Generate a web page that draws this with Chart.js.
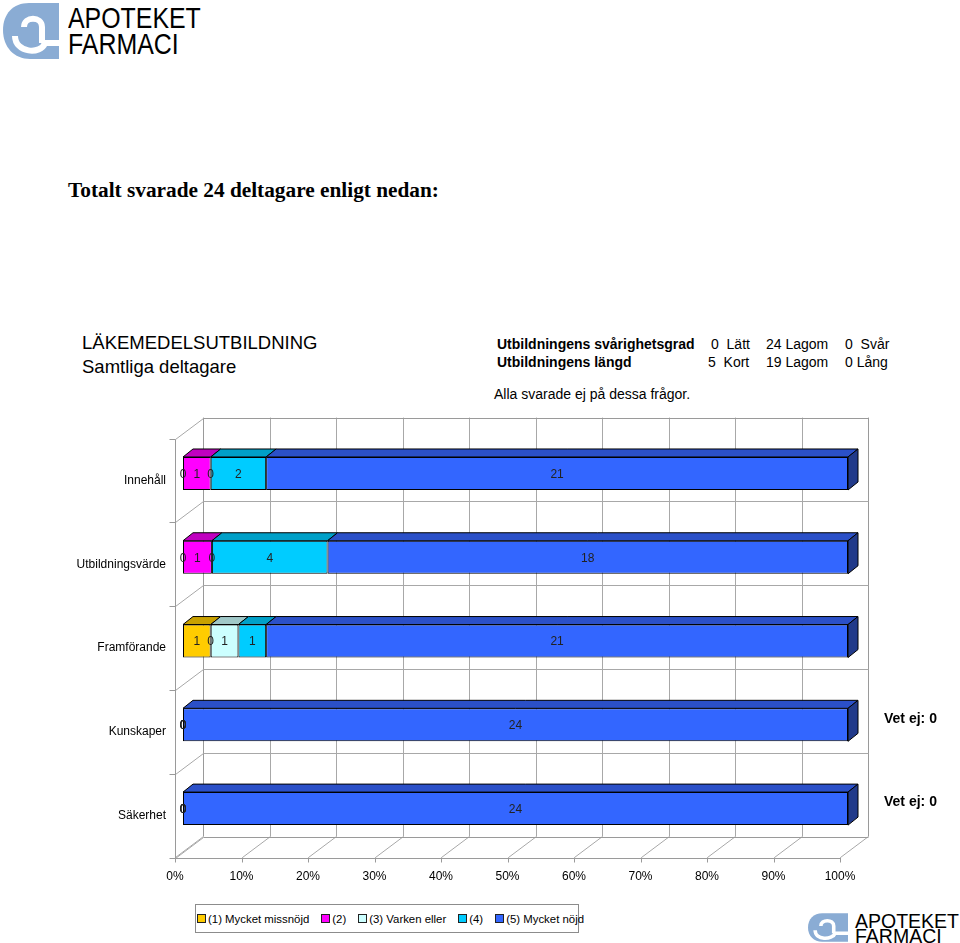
<!DOCTYPE html>
<html>
<head>
<meta charset="utf-8">
<script src="https://cdn.jsdelivr.net/npm/chart.js@4.4.1/dist/chart.umd.min.js"></script>
<style>
  html, body { margin:0; padding:0; background:#fff; }
  body { width:960px; height:943px; position:relative; overflow:hidden; font-family:"Liberation Sans", Arial, sans-serif; color:#000; }
  .abs { position:absolute; white-space:nowrap; line-height:1; }
  #chartWrap { position:absolute; left:0; top:400px; width:960px; height:500px; }
  #legend { position:absolute; left:195px; top:904px; width:384px; height:29px; border:1px solid #8c8c8c; box-sizing:border-box;
            display:flex; align-items:center; padding-left:1px; font-size:11.4px; white-space:nowrap; }
  #legend .item { display:flex; align-items:center; margin-right:12px; white-space:nowrap; flex:none; }
  #legend .sw { width:7px; height:7px; border:1px solid #222; margin-right:2px; flex:none; }
  .logoTxt { font-family:"Liberation Sans", Arial, sans-serif; transform-origin:0 0; letter-spacing:0px; }
</style>
</head>
<body>
<!-- top-left logo -->
<svg class="abs" style="left:3px;top:3px" width="56" height="56" viewBox="0 0 56 56">
  <path d="M56 0 L26 0 C10 0 0 11 0 27 C0 44 11 56 27 56 L56 56 Z" fill="#8aacd4"/>
  <path d="M21 24 C21 13 39 13 39 24 L39 40" stroke="#fff" stroke-width="6" fill="none"/>
  <path d="M12 33 C12 50 38 52 42 40 L56 40" stroke="#fff" stroke-width="6" fill="none"/>
</svg>
<div class="abs logoTxt" style="left:68px;top:3px;font-size:30px;transform:scaleX(0.83)">APOTEKET</div>
<div class="abs logoTxt" style="left:68px;top:29px;font-size:30px;transform:scaleX(0.83)">FARMACI</div>

<div class="abs" style="left:68px;top:180px;font-family:'Liberation Serif','Times New Roman',serif;font-weight:bold;font-size:21.3px;">Totalt svarade 24 deltagare enligt nedan:</div>

<div class="abs" style="left:82px;top:334px;font-size:18.5px;">LÄKEMEDELSUTBILDNING</div>
<div class="abs" style="left:82px;top:358px;font-size:18.5px;">Samtliga deltagare</div>

<div class="abs" style="left:497px;top:337px;font-size:14px;font-weight:bold;">Utbildningens svårighetsgrad</div>
<div class="abs" style="left:497px;top:355px;font-size:14px;font-weight:bold;">Utbildningens längd</div>
<div class="abs" style="left:711px;top:337px;font-size:14px;">0&nbsp; Lätt</div>
<div class="abs" style="left:766px;top:337px;font-size:14px;">24 Lagom</div>
<div class="abs" style="left:845px;top:337px;font-size:14px;">0&nbsp; Svår</div>
<div class="abs" style="left:708px;top:355px;font-size:14px;">5&nbsp; Kort</div>
<div class="abs" style="left:766px;top:355px;font-size:14px;">19 Lagom</div>
<div class="abs" style="left:845px;top:355px;font-size:14px;">0 Lång</div>
<div class="abs" style="left:494px;top:387px;font-size:14px;">Alla svarade ej på dessa frågor.</div>

<div id="chartWrap"><canvas id="c" width="960" height="500"></canvas></div>

<div id="legend"></div>

<!-- bottom-right logo -->
<svg class="abs" style="left:808px;top:913px" width="40" height="29" viewBox="0 0 56 40">
  <path d="M56 0 L20 0 C8 0 0 8 0 20 C0 32 8 40 20 40 L56 40 Z" fill="#8aacd4"/>
  <path d="M18 18 C18 8 36 8 36 18 L36 28" stroke="#fff" stroke-width="5" fill="none"/>
  <path d="M10 24 C10 38 34 38 38 28 L56 28" stroke="#fff" stroke-width="5" fill="none"/>
</svg>
<div class="abs logoTxt" style="left:855px;top:912px;font-size:19.5px;">APOTEKET</div>
<div class="abs logoTxt" style="left:855px;top:927px;font-size:19.5px;">FARMACI</div>

<script>
// ---- data ----
const categories = ['Innehåll', 'Utbildningsvärde', 'Framförande', 'Kunskaper', 'Säkerhet'];
const seriesNames = ['(1) Mycket missnöjd', '(2)', '(3) Varken eller', '(4)', '(5) Mycket nöjd'];
const s1 = [0, 0, 1, 0, 0];
const s2 = [1, 1, 0, 0, 0];
const s3 = [0, 0, 1, 0, 0];
const s4 = [2, 4, 1, 0, 0];
const s5 = [21, 18, 21, 24, 24];
const vetEj = [null, null, null, 0, 0];
const xTickLabels = ['0%', '10%', '20%', '30%', '40%', '50%', '60%', '70%', '80%', '90%', '100%'];

// ---- styles ----
const frontColors = ['#FFCC00', '#FF00FF', '#CCFFFF', '#00CCFF', '#3366FF'];
const topColors   = ['#C8A000', '#C000C0', '#A0C8C8', '#00A0C8', '#2B50C8'];
const sideColors  = ['#8F7400', '#8A008A', '#7A9A9A', '#00789A', '#213A8A'];

const series = [s1, s2, s3, s4, s5];
const totals = categories.map((_, i) => series.reduce((a, s) => a + s[i], 0));
const pct = series.map(s => s.map((v, i) => v / totals[i] * 100));

// legend
const lg = document.getElementById('legend');
seriesNames.forEach((n, k) => {
  const it = document.createElement('div'); it.className = 'item';
  const sw = document.createElement('div'); sw.className = 'sw'; sw.style.background = frontColors[k];
  const tx = document.createElement('span'); tx.textContent = n;
  it.appendChild(sw); it.appendChild(tx); lg.appendChild(it);
});

const WX = 20, WY = -14;   // back wall offset from bar front plane
const FX = -8, FY = 7;     // floor front offset
const DX = 10, DY = -8;    // bar depth

const threeD = {
  id: 'threeD',
  beforeDatasetsDraw(chart) {
    const { ctx, chartArea: { left, right, top, bottom }, scales: { x, y } } = chart;
    ctx.save();
    ctx.lineWidth = 1;
    const grid = '#a8a8a8', frame = '#9a9a9a';
    const L = (x1, y1, x2, y2, c) => { ctx.strokeStyle = c; ctx.beginPath(); ctx.moveTo(x1, y1); ctx.lineTo(x2, y2); ctx.stroke(); };
    const n = categories.length;
    const bnd = [];
    for (let i = 0; i <= n; i++) bnd.push(i === 0 ? top : i === n ? bottom : (y.getPixelForValue(i - 1) + y.getPixelForValue(i)) / 2);
    for (let v = 0; v <= 100; v += 10) {
      const xp = Math.round(x.getPixelForValue(v)) + 0.5;
      L(xp + WX, top + WY, xp + WX, bottom + WY, v === 0 || v === 100 ? frame : grid);
      L(xp + FX, bottom + FY, xp + WX, bottom + WY, grid);
      L(xp + FX, bottom + FY, xp + FX, bottom + FY + 5, frame);
    }
    bnd.forEach((b, i) => {
      const yb = Math.round(b) + 0.5;
      const xl = Math.round(left) + 0.5, xr = Math.round(right) + 0.5;
      L(xl + WX, yb + WY, xr + WX, yb + WY, i === 0 || i === n ? frame : grid);
      L(xl + FX, yb + FY, xl + WX, yb + WY, grid);
      L(xl + FX - 6, yb + FY, xl + FX, yb + FY, frame);
    });
    const xl = Math.round(left) + 0.5, xr = Math.round(right) + 0.5;
    L(xl + FX, Math.round(top) + 0.5 + FY, xl + FX, Math.round(bottom) + 0.5 + FY, frame);
    L(xl + FX, Math.round(bottom) + 0.5 + FY, xr + FX, Math.round(bottom) + 0.5 + FY, frame);
    ctx.restore();
  },
  afterDatasetsDraw(chart) {
    const { ctx, chartArea: { right }, scales: { y } } = chart;
    ctx.save();
    ctx.lineWidth = 1;
    ctx.strokeStyle = '#000';
    const poly = (pts, fill) => {
      ctx.fillStyle = fill; ctx.beginPath();
      pts.forEach((p, k) => k ? ctx.lineTo(p[0], p[1]) : ctx.moveTo(p[0], p[1]));
      ctx.closePath(); ctx.fill(); ctx.stroke();
    };
    categories.forEach((c, i) => {
      let lastK = -1;
      series.forEach((s, k) => { if (s[i] > 0) lastK = k; });
      series.forEach((s, k) => {
        const el = chart.getDatasetMeta(k).data[i];
        const p = el.getProps(['x', 'base', 'y', 'height'], true);
        const x1 = Math.min(p.x, p.base), x2 = Math.max(p.x, p.base);
        const t = p.y - p.height / 2, b = p.y + p.height / 2;
        if (x2 - x1 > 0.5) {
          poly([[x1, t], [x2, t], [x2 + DX, t + DY], [x1 + DX, t + DY]], topColors[k]);
          if (k === lastK) poly([[x2, t], [x2 + DX, t + DY], [x2 + DX, b + DY], [x2, b]], sideColors[k]);
        }
      });
      ctx.font = '12px "Liberation Sans", Arial, sans-serif';
      ctx.fillStyle = '#222';
      ctx.textAlign = 'center';
      ctx.textBaseline = 'middle';
      series.forEach((s, k) => {
        const el = chart.getDatasetMeta(k).data[i];
        const p = el.getProps(['x', 'base', 'y'], true);
        ctx.fillText(String(s[i]), (p.x + p.base) / 2, p.y + 1);
      });
      if (vetEj[i] !== null) {
        ctx.font = 'bold 14px "Liberation Sans", Arial, sans-serif';
        ctx.fillStyle = '#000';
        ctx.textAlign = 'left';
        ctx.fillText('Vet ej: ' + vetEj[i], right + 36, y.getPixelForValue(i) - 6);
      }
    });
    ctx.restore();
  }
};

new Chart(document.getElementById('c'), {
  type: 'bar',
  data: {
    labels: categories,
    datasets: seriesNames.map((n, k) => ({
      label: n,
      data: pct[k],
      backgroundColor: frontColors[k],
      borderColor: '#000',
      borderWidth: 1,
      borderSkipped: false,
      barPercentage: 0.394,
      categoryPercentage: 1
    }))
  },
  options: {
    indexAxis: 'y',
    responsive: false,
    animation: false,
    devicePixelRatio: 1,
    layout: { padding: { left: 0, right: 112, top: 31.6, bottom: 0 } },
    plugins: { legend: { display: false }, tooltip: { enabled: false } },
    scales: {
      x: {
        stacked: true, min: 0, max: 100,
        grid: { display: false, drawTicks: false }, border: { display: false },
        ticks: {
          stepSize: 10, autoSkip: false, maxRotation: 0, padding: 19, labelOffset: -8,
          color: '#000', font: { family: '"Liberation Sans", Arial, sans-serif', size: 12 },
          callback: (v, i) => xTickLabels[i]
        },
        afterFit: s => { s.height = 49.5; }
      },
      y: {
        stacked: true,
        grid: { display: false, drawTicks: false }, border: { display: false },
        ticks: {
          padding: 17, labelOffset: 7, color: '#000',
          font: { family: '"Liberation Sans", Arial, sans-serif', size: 12 }
        },
        afterFit: s => { s.width = 183; }
      }
    }
  },
  plugins: [threeD]
});
</script>
</body>
</html>
